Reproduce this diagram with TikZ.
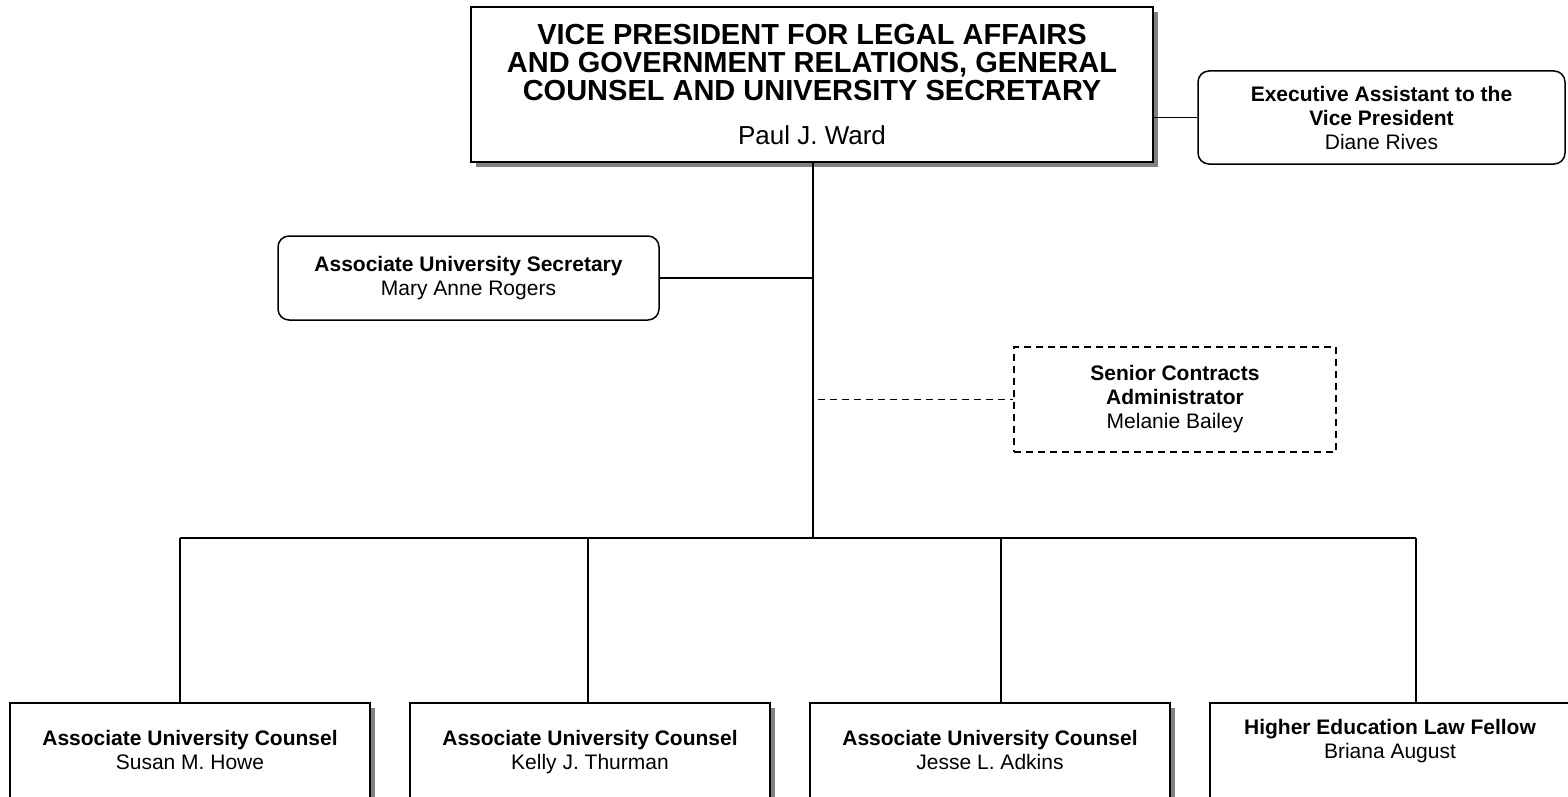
\documentclass[tikz,border=0pt]{standalone}
\usepackage{fontspec}
\setmainfont{Liberation Sans}
\usetikzlibrary{shadows}

\begin{document}
\begin{tikzpicture}[x=1pt,y=-1pt,line width=1.5pt,
  box/.style={draw, fill=white, align=center, inner sep=0pt,
    font=\fontsize{21}{24}\selectfont},
  shadowbox/.style={box, drop shadow={shadow xshift=5pt, shadow yshift=-5pt, opacity=1, fill=gray}},
  counselbox/.style={shadowbox, minimum width=360pt, minimum height=100pt, text depth=6pt},
  roundbox/.style={box, rounded corners=11pt},
  dashbox/.style={box, dash pattern=on 7pt off 5pt}]
\clip (0,0) rectangle (1568,797);

% Vice president
\node[shadowbox, minimum width=682pt, minimum height=155pt,
  font=\fontsize{29}{28}\selectfont\bfseries] (vp) at (812,84.5)
  {VICE PRESIDENT FOR LEGAL AFFAIRS\\
   AND GOVERNMENT RELATIONS, GENERAL\\
   COUNSEL AND UNIVERSITY SECRETARY\\[16pt]
   \mdseries\fontsize{26}{28}\selectfont Paul J. Ward};

% Executive assistant
\node[roundbox, minimum width=367pt, minimum height=93pt] (exec) at (1381.5,117.5)
  {\textbf{Executive Assistant to the}\\ \textbf{Vice President}\\ Diane Rives};

% Associate university secretary
\node[roundbox, minimum width=381pt, minimum height=84pt] (asec) at (468.5,278)
  {\textbf{Associate University Secretary}\\ Mary Anne Rogers};

% Senior contracts administrator
\node[dashbox, minimum width=322pt, minimum height=105pt] (contracts) at (1175,399.5)
  {\textbf{Senior Contracts}\\ \textbf{Administrator}\\ Melanie Bailey};

% Counsel row
\node[counselbox] (howe) at (190,753)
  {\textbf{Associate University Counsel}\\ Susan M. Howe};
\node[counselbox] (thurman) at (590,753)
  {\textbf{Associate University Counsel}\\ Kelly J. Thurman};
\node[counselbox] (adkins) at (990,753)
  {\textbf{Associate University Counsel}\\ Jesse L. Adkins};
\node[counselbox, text depth=28pt] (fellow) at (1390,753)
  {\textbf{Higher Education Law Fellow}\\ Briana August};

% Drop points on the bus
\coordinate (bus) at (813,538);
\coordinate (d1) at (180,538);
\coordinate (d2) at (588,538);
\coordinate (d3) at (1001,538);
\coordinate (d4) at (1416,538);
\coordinate (dashend) at (818,399.5);

% Lines
\draw (exec.west) -- (exec.west -| vp.east);
\draw (vp.south -| bus) -- (bus);
\draw (asec.east) -- (asec.east -| bus);
\draw[dash pattern=on 7pt off 5pt] (dashend) -- (contracts.west);
\draw (d1) -- (d4);
\draw (d1) -- (d1 |- howe.north);
\draw (d2) -- (d2 |- thurman.north);
\draw (d3) -- (d3 |- adkins.north);
\draw (d4) -- (d4 |- fellow.north);
\end{tikzpicture}
\end{document}
